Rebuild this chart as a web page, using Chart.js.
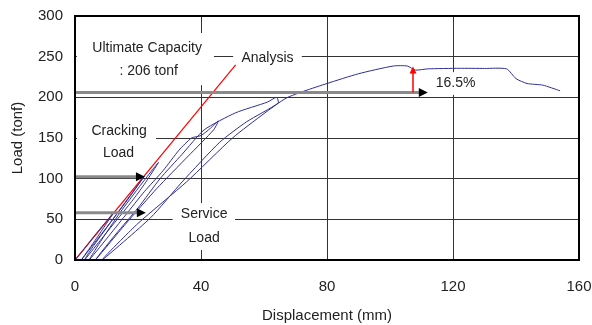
<!DOCTYPE html>
<html>
<head>
<meta charset="utf-8">
<script src="https://cdn.jsdelivr.net/npm/chart.js@4.4.1/dist/chart.umd.min.js"></script>
<style>
  html, body { margin: 0; padding: 0; background: #ffffff; }
  canvas { display: block; }
</style>
</head>
<body>
<canvas id="c" width="592" height="325"></canvas>
<script>
// Measured load-displacement path (cyclic loading, then monotonic to failure)
const testDisp = [
  0, 3, 6, 9, 12,
  9.5, 6, 2,
  6, 10, 14, 18, 22,
  18, 12, 6, 3,
  8, 13, 18, 22, 26.5,
  22, 15, 9, 4.5,
  10, 16, 22, 28, 33, 37, 40, 43, 45.5,
  44, 36, 26, 16, 6.5,
  13, 20, 27, 34, 41, 51, 61, 64, 64.5,
  54.5, 46, 34, 24, 8.6,
  20, 35.4, 50, 60, 67, 73, 80, 90, 101, 105.5, 108, 112, 122, 130, 137, 140, 143.5, 148.5, 154
];
const testLoad = [
  0, 14, 29, 43, 57,
  42, 22, 0,
  20, 40, 60, 81, 103,
  82, 50, 18, 0,
  24, 48, 72, 93, 120,
  98, 62, 28, 0,
  26, 55, 84, 110, 135, 150, 153, 162, 171,
  160, 128, 88, 44, 0,
  32, 64, 100, 130, 160, 181, 194, 200, 193,
  170, 145, 96, 52, 0,
  45, 96, 150, 180, 199, 208, 217, 229, 238.5, 238.5, 233.5, 235, 235.7, 235.5, 235, 223, 217, 215, 208
];

// Linear analysis prediction
const analysisDisp = [0, 51];
const analysisLoad = [0, 240];

// Axis ticks
const xTicks = [0, 40, 80, 120, 160];
const yTicks = [0, 50, 100, 150, 200, 250, 300];

// Horizontal reference arrows: ultimate capacity, cracking load, service load
const arrowLoad = [206, 102.5, 58.2];
const arrowTip = [112, 22.2, 22.5];

// Strength increase marker (206 -> peak)
const riseDisp = 107.3;
const riseLoad = [206, 238];

// Text notes, centred at (disp, load)
const noteText = ['Ultimate Capacity', ': 206 tonf', 'Analysis', 'Cracking', 'Load', 'Service', 'Load', '16.5%'];
const noteDisp = [22.9, 23.4, 61.1, 14, 13.8, 41, 41, 120.8];
const noteLoad = [260.7, 232.4, 248.4, 158.6, 131.6, 56.6, 27, 217.6];

// White backing boxes behind the notes [x0, x1, y0, y1] in data units
const noteBoxes = [
  [0.6, 44.1, 215, 279],
  [50.2, 72, 240, 257],
  [0.6, 25.7, 117, 172],
  [31, 50.8, 12.3, 70],
  [113, 129.2, 203, 231]
];

const FONT = "'Liberation Sans', Arial, sans-serif";

const toPoints = (xs, ys) => xs.map((x, i) => ({ x: x, y: ys[i] }));

const notesPlugin = {
  id: 'notes',
  beforeDatasetsDraw(chart) {
    const { ctx, scales: { x, y } } = chart;
    ctx.save();
    ctx.fillStyle = '#ffffff';
    noteBoxes.forEach(b => {
      const x0 = x.getPixelForValue(b[0]), x1 = x.getPixelForValue(b[1]);
      const y0 = y.getPixelForValue(b[2]), y1 = y.getPixelForValue(b[3]);
      ctx.fillRect(Math.min(x0, x1), Math.min(y0, y1), Math.abs(x1 - x0), Math.abs(y1 - y0));
    });
    ctx.fillStyle = '#222222';
    ctx.font = '14px ' + FONT;
    ctx.textAlign = 'center';
    ctx.textBaseline = 'middle';
    noteText.forEach((t, i) => {
      ctx.fillText(t, x.getPixelForValue(noteDisp[i]), y.getPixelForValue(noteLoad[i]));
    });
    ctx.restore();
  },
  afterDatasetsDraw(chart) {
    const { ctx, chartArea: a, scales: { x, y } } = chart;
    ctx.save();
    // grey reference arrows with black heads
    arrowLoad.forEach((ld, i) => {
      const py = y.getPixelForValue(ld);
      const tip = x.getPixelForValue(arrowTip[i]);
      ctx.strokeStyle = '#8a8a8a';
      ctx.lineWidth = 3;
      ctx.beginPath();
      ctx.moveTo(a.left, py);
      ctx.lineTo(tip - 8, py);
      ctx.stroke();
      ctx.fillStyle = '#000000';
      ctx.beginPath();
      ctx.moveTo(tip, py);
      ctx.lineTo(tip - 9, py - 4.5);
      ctx.lineTo(tip - 9, py + 4.5);
      ctx.closePath();
      ctx.fill();
    });
    // red rise arrow
    const rx = x.getPixelForValue(riseDisp);
    const ry0 = y.getPixelForValue(riseLoad[0]);
    const ry1 = y.getPixelForValue(riseLoad[1]);
    ctx.strokeStyle = '#ff0000';
    ctx.lineWidth = 1.5;
    ctx.beginPath();
    ctx.moveTo(rx, ry0);
    ctx.lineTo(rx, ry1 + 6);
    ctx.stroke();
    ctx.fillStyle = '#ff0000';
    ctx.beginPath();
    ctx.moveTo(rx, ry1);
    ctx.lineTo(rx - 3.5, ry1 + 7);
    ctx.lineTo(rx + 3.5, ry1 + 7);
    ctx.closePath();
    ctx.fill();
    // plot frame
    ctx.strokeStyle = '#000000';
    ctx.lineWidth = 2;
    ctx.strokeRect(a.left, a.top, a.right - a.left, a.bottom - a.top);
    ctx.restore();
  }
};

new Chart(document.getElementById('c'), {
  type: 'scatter',
  data: {
    datasets: [
      {
        label: 'Test',
        data: toPoints(testDisp, testLoad),
        showLine: true,
        borderColor: '#2e2e96',
        borderWidth: 1,
        pointRadius: 0,
        tension: 0.2,
        fill: false
      },
      {
        label: 'Analysis',
        data: toPoints(analysisDisp, analysisLoad),
        showLine: true,
        borderColor: '#ff0000',
        borderWidth: 1.2,
        pointRadius: 0,
        fill: false
      }
    ]
  },
  options: {
    responsive: false,
    animation: false,
    devicePixelRatio: 1,
    layout: { padding: { top: 16, right: 13, left: 0, bottom: 0 } },
    plugins: { legend: { display: false }, tooltip: { enabled: false } },
    scales: {
      x: {
        type: 'linear',
        min: xTicks[0],
        max: xTicks[xTicks.length - 1],
        afterBuildTicks: s => { s.ticks = xTicks.map(v => ({ value: v })); },
        afterFit: s => { s.height = 65; },
        ticks: { color: '#222222', font: { family: FONT, size: 15 }, padding: 0 },
        grid: { color: '#333333', lineWidth: 1, drawTicks: true, tickLength: 18, tickColor: 'rgba(0,0,0,0)' },
        border: { display: true, color: '#000000', width: 2 },
        title: {
          display: true,
          text: 'Displacement (mm)',
          color: '#222222',
          font: { family: FONT, size: 15 },
          padding: { top: 0, bottom: 0 }
        }
      },
      y: {
        type: 'linear',
        min: yTicks[0],
        max: yTicks[yTicks.length - 1],
        afterBuildTicks: s => { s.ticks = yTicks.map(v => ({ value: v })); },
        afterFit: s => { s.width = 75; },
        ticks: { color: '#222222', font: { family: FONT, size: 15 }, padding: 0 },
        grid: { color: '#333333', lineWidth: 1, drawTicks: true, tickLength: 12, tickColor: 'rgba(0,0,0,0)' },
        border: { display: true, color: '#000000', width: 2 },
        title: {
          display: true,
          text: 'Load (tonf)',
          color: '#222222',
          font: { family: FONT, size: 15 },
          padding: { top: 9, bottom: 0 }
        }
      }
    }
  },
  plugins: [notesPlugin]
});
</script>
</body>
</html>
